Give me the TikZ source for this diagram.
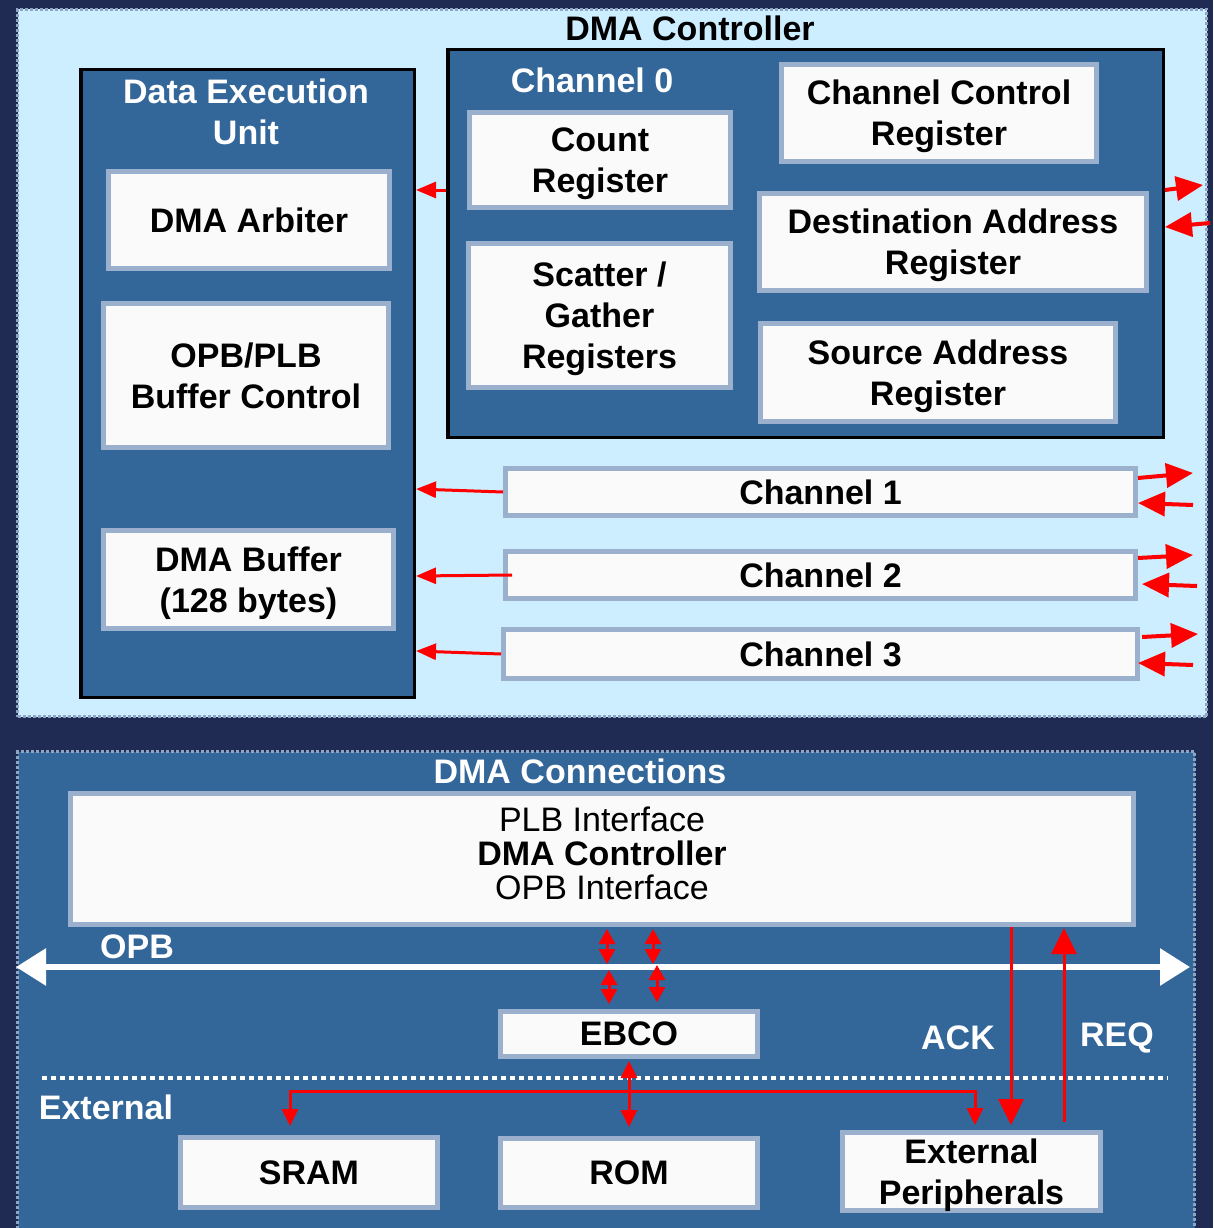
\documentclass[tikz,border=0pt]{standalone}
\usepackage{fontspec}
\setmainfont{Liberation Sans}
\usetikzlibrary{arrows.meta,calc}
\definecolor{navy}{HTML}{1F2B52}
\definecolor{lblue}{HTML}{CCEEFF}
\definecolor{mblue}{HTML}{336699}
\definecolor{bord}{HTML}{9AB0CC}
\definecolor{pbord}{HTML}{8FA5C4}
\definecolor{boxfill}{HTML}{FAFAFA}
\begin{document}
\begin{tikzpicture}[x=1pt,y=-1pt,
  wbox/.style={draw=bord, line width=5pt, fill=boxfill, align=center, inner sep=0pt, text depth=0pt,
    font=\fontsize{34}{41}\selectfont\bfseries},
  cont/.style={draw=black, line width=3.5pt, fill=mblue, inner sep=0pt},
  panel/.style={draw=pbord, line width=3pt, dotted, inner sep=0pt},
  ttlw/.style={text=white, align=center, inner sep=0pt, font=\fontsize{34}{41}\selectfont\bfseries},
  ttlb/.style={text=black, align=center, inner sep=0pt, font=\fontsize{34}{41}\selectfont\bfseries},
  redsm/.style={draw=red, line width=3pt, -{Triangle[length=20pt,width=16pt]}},
  redbig/.style={draw=red, line width=4pt, -{Triangle[length=27pt,width=24pt]}},
  redbigin/.style={draw=red, line width=4pt, {Triangle[length=27pt,width=24pt]}-},
  redtiny/.style={draw=red, line width=3pt, {Triangle[length=15pt,width=16pt]}-{Triangle[length=15pt,width=16pt]}},
  redmed/.style={draw=red, line width=3pt, {Triangle[length=17pt,width=16pt]}-{Triangle[length=17pt,width=16pt]}},
  ackarr/.style={draw=red, line width=3pt, -{Triangle[length=26pt,width=25pt]}},
  opbarr/.style={draw=white, line width=6pt, {Triangle[length=30pt,width=36pt]}-{Triangle[length=30pt,width=36pt]}},
  dotline/.style={draw=white, line width=4pt, dash pattern=on 5pt off 4pt}
]
\useasboundingbox (0,0) rectangle (1213,1228);
\fill[navy] (0,0) rectangle (1213,1228);

% ---------- top panel ----------
\node[panel, fill=lblue, minimum width=1189pt, minimum height=707pt] (top) at (612,363) {};
\node[ttlb] (toptitle) at (690,28) {DMA Controller};

\node[cont, minimum width=333.5pt, minimum height=627.5pt] (deu) at (247.5,383.5) {};
\node[ttlw] (deutitle) at (246,112) {Data Execution\\Unit};
\node[wbox, minimum width=281pt, minimum height=97pt] (arb) at (249,220) {DMA Arbiter};
\node[wbox, minimum width=285pt, minimum height=144pt] (buf) at (246,375.5) {OPB/PLB\\Buffer Control};
\node[wbox, minimum width=290pt, minimum height=98pt] (dmabuf) at (248.5,579.5) {DMA Buffer\\(128 bytes)};

\node[cont, minimum width=715.5pt, minimum height=387.5pt] (ch0) at (805.5,243.5) {};
\node[ttlw] (ch0title) at (592,80) {Channel 0};
\node[wbox, minimum width=261pt, minimum height=95pt] (count) at (600,160) {Count\\Register};
\node[wbox, minimum width=262pt, minimum height=144pt] (sg) at (599.5,315.5) {Scatter /\\Gather\\Registers};
\node[wbox, minimum width=315pt, minimum height=97pt] (ccr) at (939,113) {Channel Control\\Register};
\node[wbox, minimum width=387pt, minimum height=97pt] (dar) at (953,242) {Destination Address\\Register};
\node[wbox, minimum width=355pt, minimum height=98pt] (sar) at (938,372.5) {Source Address\\Register};

\node[wbox, minimum width=630pt, minimum height=47pt] (ch1) at (820.5,492) {Channel 1};
\node[wbox, minimum width=630pt, minimum height=47pt] (ch2) at (820.5,575) {Channel 2};
\node[wbox, minimum width=634pt, minimum height=49pt] (ch3) at (820.5,654) {Channel 3};

% arrows into the data execution unit
\draw[redsm] ([yshift=53.5pt]ch0.west) -- ([yshift=193.5pt]deu.east);
\draw[redsm] (ch1.west) -- ([yshift=-105.5pt]deu.east);
\draw[redsm] ([xshift=9pt]ch2.west) -- ([yshift=-192.5pt]deu.east);
\draw[redsm] (ch3.west) -- ([yshift=-267.5pt]deu.east);

% arrows on the right side
\draw[redbig] ([yshift=53.5pt]ch0.east) -- ++(38,-5);
\draw[redbigin] ([yshift=16.5pt]ch0.east) -- ++(45,-4);
\draw[redbig] ([yshift=14pt]ch1.east) -- ++(55,-5);
\draw[redbigin] ([yshift=-11pt]ch1.east) -- ++(55,2);
\draw[redbig] ([yshift=17pt]ch2.east) -- ++(55,-3);
\draw[redbigin] ([xshift=4pt,yshift=-9pt]ch2.east) -- ++(55,2);
\draw[redbig] ([xshift=2pt,yshift=17pt]ch3.east) -- ++(56,-3);
\draw[redbigin] ([xshift=-2pt,yshift=-9pt]ch3.east) -- ++(55,2);

% ---------- bottom panel ----------
\node[panel, fill=mblue, minimum width=1177pt, minimum height=487pt] (bot) at (606,995) {};
\node[ttlw] (bottitle) at (580,771) {DMA Connections};
\node[wbox, minimum width=1063pt, minimum height=131pt, text depth=12pt, font=\fontsize{34}{34}\selectfont] (plb) at (602,859)
  {PLB Interface\\\textbf{DMA Controller}\\OPB Interface};

\node[ttlw] (opblabel) at (137,947) {OPB};
\coordinate (opbL) at (16,967);
\coordinate (opbR) at (1190,967);
\draw[opbarr] (opbL) -- (opbR);

\node[wbox, minimum width=257pt, minimum height=45pt] (ebco) at (629,1034) {EBCO};
\node[ttlw] (ack) at (958,1038) {ACK};
\node[ttlw] (req) at (1117,1038) {REQ};

\coordinate (dotL) at (42,1078);
\coordinate (dotR) at (1168,1078);
\draw[dotline] (dotL) -- (dotR);
\node[ttlw] (extlabel) at (106,1107) {External};

\node[wbox, minimum width=257pt, minimum height=70pt] (sram) at (309,1172.5) {SRAM};
\node[wbox, minimum width=257pt, minimum height=69pt] (rom) at (629,1173) {ROM};
\node[wbox, minimum width=258pt, minimum height=78pt] (ext) at (971.5,1171.5) {External\\Peripherals};

% small double arrows between PLB box / OPB / EBCO
\draw[redtiny] ([xshift=5pt,yshift=-2pt]plb.south) -- ++(0,35);
\draw[redtiny] ([xshift=51pt,yshift=-2pt]plb.south) -- ++(0,35);
\draw[redtiny] ([xshift=-20pt,yshift=5pt]ebco.north) -- ++(0,-34);
\draw[redtiny] ([xshift=28pt,yshift=7pt]ebco.north) -- ++(0,-37);

% EBCO to ROM
\draw[redmed] ([yshift=-2pt]ebco.south) -- ([yshift=9pt]rom.north);

% bus to SRAM and external peripherals
\coordinate (sramtip) at ([xshift=-19pt,yshift=9pt]sram.north);
\coordinate (exttip) at ([xshift=3.5pt,yshift=5pt]ext.north);
\coordinate (busy) at (0,1091);
\draw[redmed] (sramtip) -- (sramtip |- busy) -- (exttip |- busy) -- (exttip);

% ACK / REQ
\draw[ackarr] ([xshift=409pt]plb.south) -- ([xshift=39.5pt,yshift=5pt]ext.north);
\draw[ackarr] ([xshift=92.5pt,yshift=8pt]ext.north) -- ([xshift=462pt,yshift=-1pt]plb.south);
\end{tikzpicture}
\end{document}
